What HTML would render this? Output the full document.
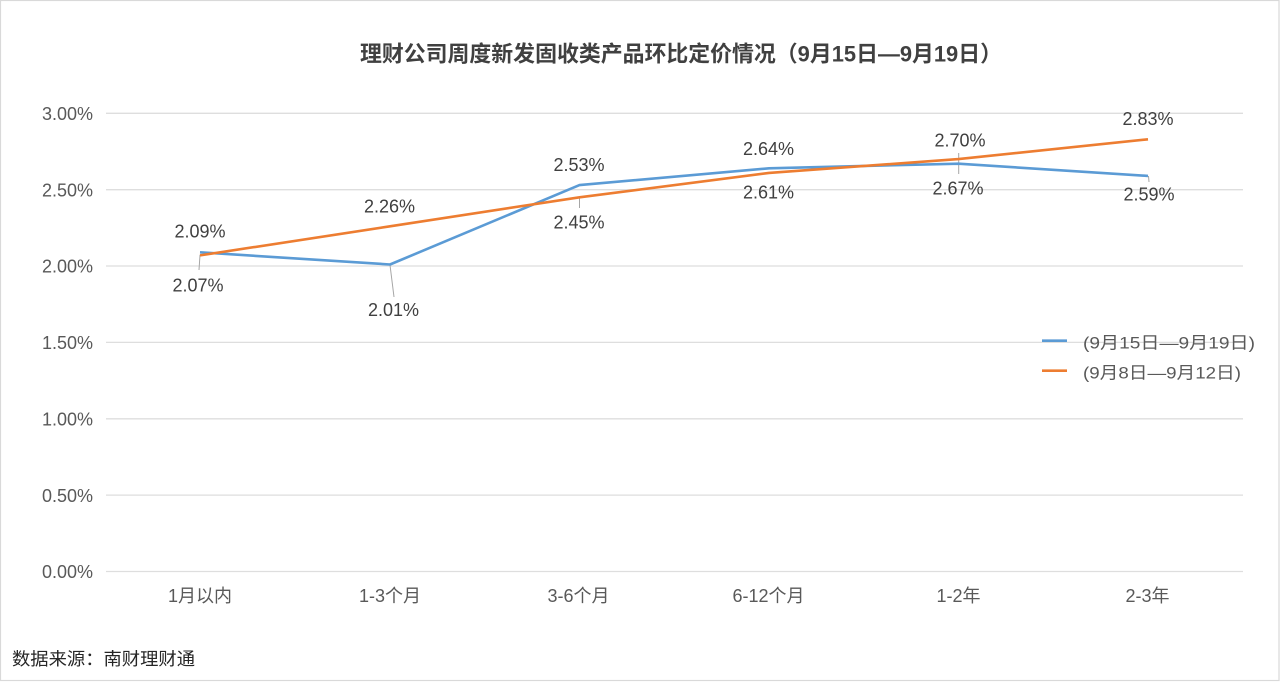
<!DOCTYPE html>
<html>
<head>
<meta charset="utf-8">
<style>
  html,body{margin:0;padding:0;background:#fff;}
  svg{display:block;}
  text{font-family:"Liberation Sans","Noto Sans CJK SC",sans-serif;}
</style>
</head>
<body>
<svg width="1280" height="682" viewBox="0 0 1280 682" xmlns="http://www.w3.org/2000/svg">
  <rect x="0" y="0" width="1280" height="682" fill="#fff"/>
  <rect x="0.5" y="0.5" width="1278.5" height="680" fill="none" stroke="#d9d9d9" stroke-width="1.2"/>

  <!-- Title -->
  <text x="360" y="61.5" font-size="22" font-weight="bold" fill="#404040" textLength="642" lengthAdjust="spacingAndGlyphs">理财公司周度新发固收类产品环比定价情况（9月15日—9月19日）</text>

  <!-- Gridlines -->
  <g stroke="#dedede" stroke-width="1.3">
    <line x1="106" y1="113.3" x2="1243" y2="113.3"/>
    <line x1="106" y1="189.7" x2="1243" y2="189.7"/>
    <line x1="106" y1="266.0" x2="1243" y2="266.0"/>
    <line x1="106" y1="342.4" x2="1243" y2="342.4"/>
    <line x1="106" y1="418.8" x2="1243" y2="418.8"/>
    <line x1="106" y1="495.1" x2="1243" y2="495.1"/>
    <line x1="106" y1="571.5" x2="1243" y2="571.5"/>
  </g>

  <!-- Y axis labels -->
  <g font-size="18" fill="#595959" text-anchor="end">
    <text x="93" y="120">3.00%</text>
    <text x="93" y="196.4">2.50%</text>
    <text x="93" y="272.7">2.00%</text>
    <text x="93" y="349.1">1.50%</text>
    <text x="93" y="425.5">1.00%</text>
    <text x="93" y="501.8">0.50%</text>
    <text x="93" y="578.2">0.00%</text>
  </g>

  <!-- X axis labels -->
  <g font-size="18" fill="#595959" text-anchor="middle">
    <text x="200" y="602">1月以内</text>
    <text x="390" y="602">1-3个月</text>
    <text x="578.5" y="602">3-6个月</text>
    <text x="768.5" y="602">6-12个月</text>
    <text x="958.5" y="602">1-2年</text>
    <text x="1147.5" y="602">2-3年</text>
  </g>

  <!-- Leader lines -->
  <g stroke="#a6a6a6" stroke-width="1">
    <line x1="200" y1="255" x2="199" y2="270"/>
    <line x1="390" y1="265" x2="394" y2="297"/>
    <line x1="579.5" y1="197" x2="579.5" y2="208"/>
    <line x1="958.7" y1="153" x2="958.7" y2="174"/>
    <line x1="1148.5" y1="176" x2="1149" y2="182"/>
  </g>

  <!-- Series: blue (9月15日—9月19日) -->
  <polyline fill="none" stroke="#5b9bd5" stroke-width="2.6" stroke-linejoin="round"
    points="200,252.3 390,264.5 579.5,185.1 769,168.3 958.5,163.7 1148,175.9"/>
  <!-- Series: orange (9月8日—9月12日) -->
  <polyline fill="none" stroke="#ed7d31" stroke-width="2.6" stroke-linejoin="round"
    points="200,255.4 390,226.3 579.5,197.3 769,172.9 958.5,159.1 1148,139.3"/>

  <!-- Data labels -->
  <g font-size="18" fill="#404040" text-anchor="middle">
    <text x="200" y="237.7">2.09%</text>
    <text x="198" y="291.7">2.07%</text>
    <text x="389.5" y="212.7">2.26%</text>
    <text x="393.5" y="316">2.01%</text>
    <text x="579" y="171">2.53%</text>
    <text x="579" y="228.3">2.45%</text>
    <text x="768.5" y="155">2.64%</text>
    <text x="768.5" y="198.3">2.61%</text>
    <text x="960" y="146.7">2.70%</text>
    <text x="958" y="194.3">2.67%</text>
    <text x="1148" y="125">2.83%</text>
    <text x="1149" y="200.7">2.59%</text>
  </g>

  <!-- Legend -->
  <line x1="1042" y1="340.7" x2="1067" y2="340.7" stroke="#5b9bd5" stroke-width="2.6"/>
  <line x1="1042" y1="370.7" x2="1067" y2="370.7" stroke="#ed7d31" stroke-width="2.6"/>
  <g font-size="17" fill="#595959">
    <text x="1083" y="348.5" textLength="172" lengthAdjust="spacingAndGlyphs">(9月15日—9月19日)</text>
    <text x="1083" y="378.5" textLength="158" lengthAdjust="spacingAndGlyphs">(9月8日—9月12日)</text>
  </g>

  <!-- Source -->
  <text x="12" y="665" font-size="17.5" fill="#262626" textLength="183" lengthAdjust="spacingAndGlyphs">数据来源：南财理财通</text>
</svg>
</body>
</html>
